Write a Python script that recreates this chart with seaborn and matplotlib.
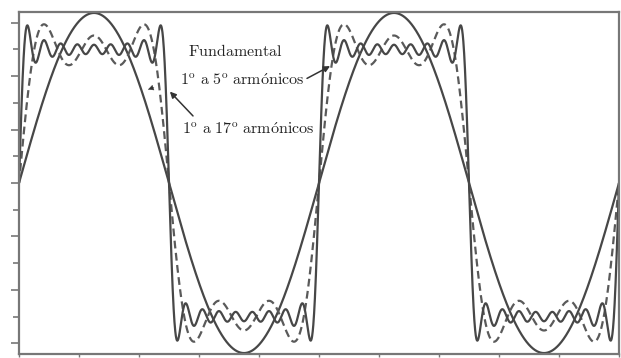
import numpy as np
import pandas as pd
import matplotlib
matplotlib.use("Agg")
import matplotlib.pyplot as plt
import seaborn as sns

# Odd harmonics of a unit square wave and their amplitudes
harmonic_order = [1, 3, 5, 7, 9, 11, 13, 15, 17]
harmonic_amplitude = [1.273, 0.424, 0.255, 0.182, 0.141, 0.116, 0.098, 0.085, 0.075]

# Each curve is the sum of harmonics up to a given order
series_names = ["Fundamental", "1° a 5° armónicos", "1° a 17° armónicos"]
series_max_order = [1, 5, 17]
series_dashes = [(1, 0), (3.5, 2.0), (1, 0)]

# Time axis: two periods of the fundamental
t_start, t_end = 0.0, 2.0
period = 1.0
x_ticks = [0.0, 0.2, 0.4, 0.6, 0.8, 1.0, 1.2, 1.4, 1.6, 1.8, 2.0]
y_major_ticks = [-1.2, -0.8, -0.4, 0.0, 0.4, 0.8, 1.2]
y_minor_ticks = [-1.0, -0.6, -0.2, 0.2, 0.6, 1.0]

t = np.linspace(t_start, t_end, 3000)
frames = []
for name, max_order in zip(series_names, series_max_order):
    y = np.zeros_like(t)
    for n, a in zip(harmonic_order, harmonic_amplitude):
        if n <= max_order:
            y += a * np.sin(2 * np.pi * n * t / period)
    frames.append(pd.DataFrame({"t": t, "y": y, "serie": name}))
df = pd.concat(frames, ignore_index=True)

sns.set_style("white")
plt.rcParams["mathtext.fontset"] = "cm"

fig = plt.figure(figsize=(6.21, 3.58), dpi=100)
ax = fig.add_axes([19 / 621, 4 / 358, 600 / 621, 342 / 358])

line_color = "#474747"
sns.lineplot(data=df, x="t", y="y", hue="serie", style="serie",
             hue_order=series_names, style_order=series_names,
             palette=[line_color, "#5a5a5a", line_color],
             dashes=series_dashes, linewidth=1.6, legend=False,
             estimator=None, sort=False, ax=ax)

ax.set_xlim(t_start, t_end)
ax.set_ylim(-1.28, 1.28)
ax.set_xlabel("")
ax.set_ylabel("")

frame_color = "#777777"
for side in ax.spines.values():
    side.set_color(frame_color)
    side.set_linewidth(1.6)

ax.set_xticks(x_ticks)
ax.set_yticks(y_major_ticks)
ax.set_yticks(y_minor_ticks, minor=True)
ax.set_xticklabels([])
ax.set_yticklabels([])
ax.tick_params(axis="x", which="major", direction="out", length=2.5,
               width=1.0, color=frame_color, bottom=True)
ax.tick_params(axis="y", which="major", direction="out", length=6,
               width=1.2, color=frame_color, left=True)
ax.tick_params(axis="y", which="minor", direction="out", length=4,
               width=1.2, color=frame_color, left=True)

text_color = "#222222"
fs = 11.5
ax.text(0.563, 0.951, r"$\mathrm{Fundamental}$", fontsize=fs,
        color=text_color, ha="left", va="baseline")
ax.text(0.537, 0.730, r"$\mathrm{1^{o}\ a\ 5^{o}\ arm\acute{o}nicos}$",
        fontsize=fs, color=text_color, ha="left", va="baseline")
ax.text(0.543, 0.365, r"$\mathrm{1^{o}\ a\ 17^{o}\ arm\acute{o}nicos}$",
        fontsize=fs, color=text_color, ha="left", va="baseline")

arrow = dict(arrowstyle="-|>", color="#333333", lw=1.1, mutation_scale=9,
             shrinkA=0, shrinkB=0)
ax.annotate("", xy=(1.037, 0.875), xytext=(0.960, 0.783), arrowprops=arrow)
ax.annotate("", xy=(0.503, 0.684), xytext=(0.580, 0.502), arrowprops=arrow)
ax.annotate("", xy=(0.430, 0.700), xytext=(0.450, 0.716),
            arrowprops=dict(arrow, lw=0.3))

fig.savefig("out.png", dpi=100)
